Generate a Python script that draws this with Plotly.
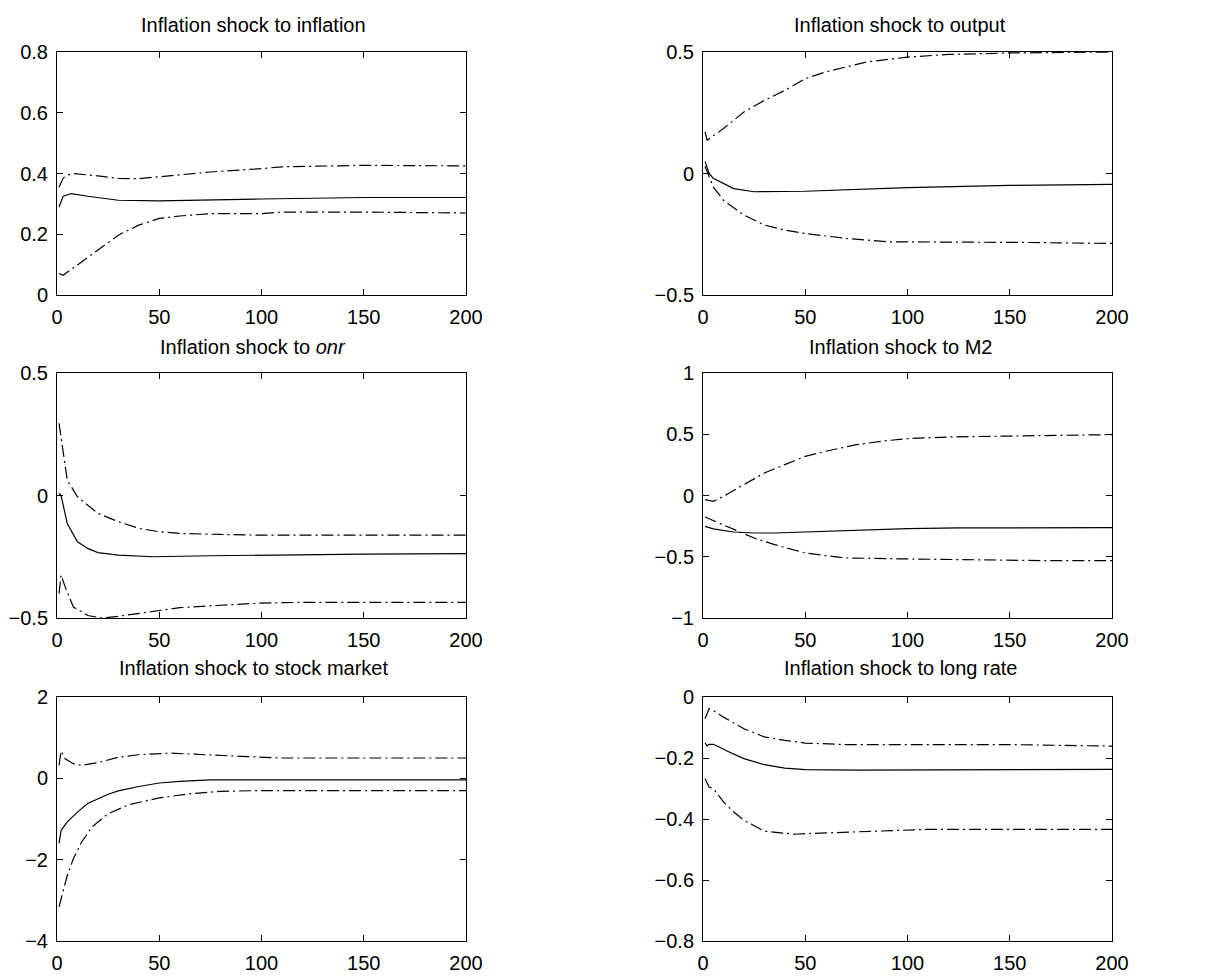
import plotly.graph_objects as go

# ---------------- data ----------------
titles = ["Inflation shock to inflation", "Inflation shock to output",
          "Inflation shock to <i>onr</i>", "Inflation shock to M2",
          "Inflation shock to stock market", "Inflation shock to long rate"]

# Panel 1: inflation
p1_x_mid = [1, 3, 7, 15, 30, 50, 100, 150, 200]
p1_mid = [0.29, 0.325, 0.334, 0.325, 0.312, 0.31, 0.316, 0.321, 0.321]
p1_x_up = [1, 3, 5, 8, 20, 30, 40, 50, 75, 100, 110, 150, 200]
p1_up = [0.355, 0.385, 0.395, 0.4, 0.392, 0.384, 0.383, 0.389, 0.405, 0.416, 0.422, 0.427, 0.425]
p1_x_lo = [1, 3, 10, 20, 30, 40, 50, 60, 75, 100, 110, 150, 200]
p1_lo = [0.071, 0.065, 0.099, 0.148, 0.197, 0.23, 0.252, 0.26, 0.268, 0.268, 0.273, 0.273, 0.27]

# Panel 2: output
p2_x_mid = [1, 3, 5, 10, 15, 25, 40, 50, 100, 150, 200]
p2_mid = [0.05, 0.0, -0.02, -0.041, -0.062, -0.075, -0.075, -0.073, -0.058, -0.049, -0.045]
p2_x_up = [1, 2, 10, 20, 30, 40, 50, 60, 80, 100, 120, 150, 200]
p2_up = [0.171, 0.137, 0.185, 0.253, 0.301, 0.342, 0.39, 0.418, 0.459, 0.479, 0.49, 0.496, 0.5]
p2_x_lo = [1, 5, 10, 20, 30, 40, 50, 70, 90, 120, 140, 160, 200]
p2_lo = [0.03, -0.055, -0.11, -0.171, -0.212, -0.233, -0.247, -0.267, -0.281, -0.281, -0.284, -0.284, -0.288]

# Panel 3: onr
p3_x_mid = [1, 2, 5, 10, 15, 20, 30, 47, 75, 100, 150, 200]
p3_mid = [0.01, 0.0, -0.114, -0.189, -0.216, -0.233, -0.243, -0.25, -0.246, -0.243, -0.239, -0.237]
p3_x_up = [1, 3, 5, 10, 20, 30, 40, 50, 60, 80, 100, 150, 200]
p3_up = [0.295, 0.18, 0.063, -0.005, -0.073, -0.107, -0.134, -0.148, -0.155, -0.159, -0.162, -0.162, -0.162]
p3_x_lo = [1, 2, 4, 8, 15, 22, 30, 40, 50, 60, 80, 100, 120, 150, 200]
p3_lo = [-0.4, -0.325, -0.373, -0.455, -0.49, -0.5, -0.493, -0.482, -0.469, -0.458, -0.448, -0.439, -0.436, -0.436, -0.436]

# Panel 4: M2
p4_x_mid = [1, 5, 15, 25, 35, 50, 75, 100, 125, 150, 200]
p4_mid = [-0.252, -0.273, -0.298, -0.306, -0.306, -0.298, -0.284, -0.271, -0.265, -0.263, -0.263]
p4_x_up = [1, 5, 10, 20, 30, 40, 50, 60, 75, 90, 100, 120, 140, 160, 200]
p4_up = [-0.034, -0.048, -0.007, 0.088, 0.184, 0.252, 0.32, 0.361, 0.415, 0.448, 0.464, 0.478, 0.483, 0.491, 0.497]
p4_x_lo = [1, 5, 15, 25, 35, 50, 60, 70, 100, 130, 170, 200]
p4_lo = [-0.176, -0.205, -0.279, -0.347, -0.401, -0.469, -0.491, -0.51, -0.518, -0.526, -0.532, -0.532]

# Panel 5: stock market
p5_x_mid = [1, 2, 5, 10, 15, 20, 25, 30, 40, 50, 60, 75, 100, 200]
p5_mid = [-1.6, -1.28, -1.07, -0.83, -0.62, -0.5, -0.39, -0.31, -0.2, -0.115, -0.074, -0.04, -0.04, -0.04]
p5_x_up = [1, 2, 4, 8, 12, 20, 30, 40, 55, 70, 90, 110, 150, 200]
p5_up = [0.32, 0.67, 0.48, 0.36, 0.32, 0.385, 0.52, 0.58, 0.62, 0.58, 0.54, 0.5, 0.5, 0.5]
p5_x_lo = [1, 3, 5, 8, 12, 17, 25, 35, 50, 65, 80, 100, 200]
p5_lo = [-3.16, -2.8, -2.39, -1.98, -1.57, -1.2, -0.87, -0.65, -0.48, -0.38, -0.32, -0.3, -0.3]

# Panel 6: long rate
p6_x_mid = [1, 2, 3, 5, 8, 12, 20, 30, 40, 50, 75, 100, 150, 200]
p6_mid = [-0.15, -0.16, -0.155, -0.155, -0.164, -0.178, -0.202, -0.222, -0.233, -0.238, -0.24, -0.239, -0.237, -0.237]
p6_x_up = [1, 3, 5, 10, 20, 30, 40, 50, 70, 100, 150, 200]
p6_up = [-0.071, -0.038, -0.044, -0.066, -0.104, -0.131, -0.142, -0.151, -0.156, -0.156, -0.156, -0.161]
p6_x_lo = [1, 3, 5, 10, 15, 20, 30, 45, 50, 70, 90, 110, 200]
p6_lo = [-0.268, -0.295, -0.3, -0.344, -0.377, -0.404, -0.44, -0.45, -0.448, -0.443, -0.437, -0.434, -0.434]

y_ranges = [[0, 0.8], [-0.5, 0.5], [-0.5, 0.5], [-1, 1], [-4, 2], [-0.8, 0]]
y_dtick = [0.2, 0.5, 0.5, 0.5, 2, 0.2]
x_ticks = [0, 50, 100, 150, 200]

panels = [
    (p1_x_mid, p1_mid, p1_x_up, p1_up, p1_x_lo, p1_lo),
    (p2_x_mid, p2_mid, p2_x_up, p2_up, p2_x_lo, p2_lo),
    (p3_x_mid, p3_mid, p3_x_up, p3_up, p3_x_lo, p3_lo),
    (p4_x_mid, p4_mid, p4_x_up, p4_up, p4_x_lo, p4_lo),
    (p5_x_mid, p5_mid, p5_x_up, p5_up, p5_x_lo, p5_lo),
    (p6_x_mid, p6_mid, p6_x_up, p6_up, p6_x_lo, p6_lo),
]

# ---------------- layout ----------------
W, H = 1218, 976
col_px = [(57, 466), (703, 1112)]
row_px = [(52, 295), (373, 618), (697, 941)]
title_cx = [253, 900]
title_cy = [25, 347, 668]

FONT = "Liberation Sans, Arial, Helvetica, sans-serif"
dash = "12px,4px,2px,4px"

fig = go.Figure()
layout = dict(width=W, height=H, margin=dict(l=0, r=0, t=0, b=0, autoexpand=False),
              paper_bgcolor="white", plot_bgcolor="white", showlegend=False,
              font=dict(family=FONT, size=20, color="black"))
annotations = []

for i, (xm, ym, xu, yu, xl, yl) in enumerate(panels):
    r, c = divmod(i, 2)
    n = i + 1
    xa = "x" if n == 1 else f"x{n}"
    ya = "y" if n == 1 else f"y{n}"
    line_solid = dict(color="black", width=1.2)
    line_dd = dict(color="black", width=1.2, dash=dash)
    fig.add_trace(go.Scatter(x=xu, y=yu, mode="lines", line=line_dd, xaxis=xa, yaxis=ya))
    fig.add_trace(go.Scatter(x=xm, y=ym, mode="lines", line=line_solid, xaxis=xa, yaxis=ya))
    fig.add_trace(go.Scatter(x=xl, y=yl, mode="lines", line=line_dd, xaxis=xa, yaxis=ya))

    x0, x1 = col_px[c]
    yt, yb = row_px[r]
    common = dict(showline=True, linecolor="black", linewidth=1, mirror="ticks",
                  ticks="inside", ticklen=6, tickcolor="black", showgrid=False,
                  zeroline=False, automargin=False, tickfont=dict(size=20, family=FONT))
    layout["xaxis" if n == 1 else f"xaxis{n}"] = dict(
        domain=[x0 / W, x1 / W], range=[0, 200], tickvals=x_ticks,
        anchor=ya, ticklabelstandoff=4, **common)
    layout["yaxis" if n == 1 else f"yaxis{n}"] = dict(
        domain=[1 - yb / H, 1 - yt / H], range=y_ranges[i], dtick=y_dtick[i],
        tick0=y_ranges[i][0], anchor=xa, ticklabelstandoff=4, **common)
    annotations.append(dict(text=titles[i], x=title_cx[c] / W, y=1 - title_cy[r] / H,
                            xref="paper", yref="paper", xanchor="center", yanchor="middle",
                            showarrow=False, font=dict(size=20, family=FONT)))

layout["annotations"] = annotations
fig.update_layout(**layout)
fig.write_html("out.html")
